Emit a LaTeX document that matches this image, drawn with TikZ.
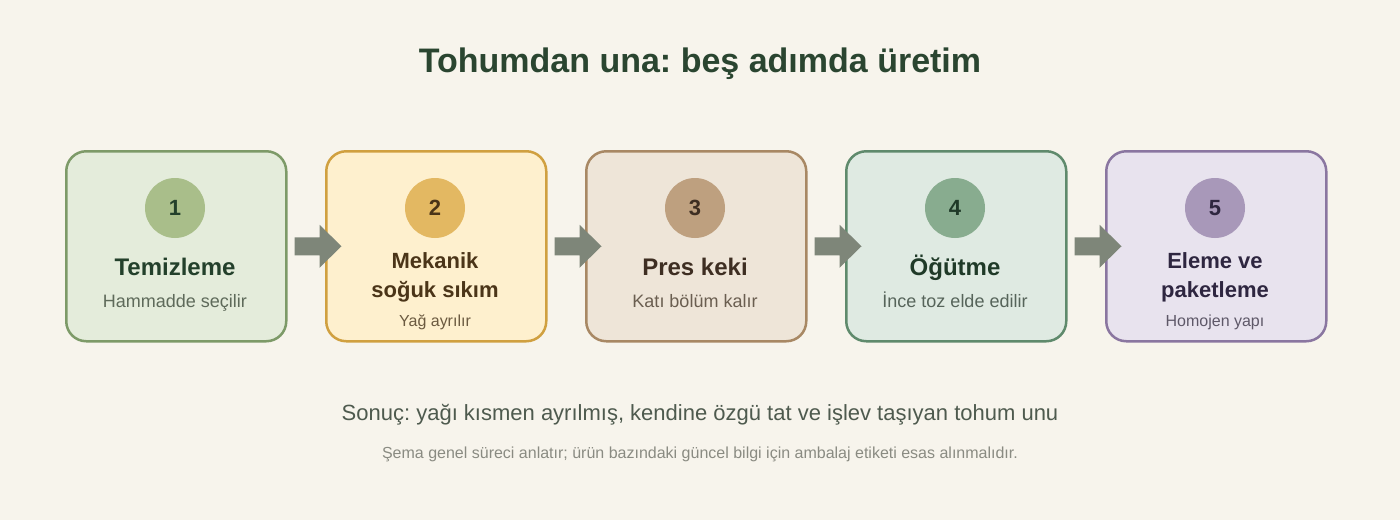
\documentclass[tikz,border=0pt]{standalone}
\usepackage{fontspec}
\setmainfont{Liberation Sans}
\frenchspacing
\definecolor{bg}{HTML}{F7F4EC}
\definecolor{arrowc}{HTML}{7E8679}
\definecolor{titlec}{HTML}{2A4530}
\definecolor{resc}{HTML}{4E5A4E}
\definecolor{notec}{HTML}{8A8B82}
\definecolor{fA}{HTML}{E4ECDB}\definecolor{dA}{HTML}{7D9A68}\definecolor{cA}{HTML}{A9BE8A}\definecolor{tA}{HTML}{23402B}\definecolor{sA}{HTML}{5E6A5A}
\definecolor{fB}{HTML}{FEF0CE}\definecolor{dB}{HTML}{D0A040}\definecolor{cB}{HTML}{E3B862}\definecolor{tB}{HTML}{4B3518}\definecolor{sB}{HTML}{6B5A40}
\definecolor{fC}{HTML}{EEE5D8}\definecolor{dC}{HTML}{A88864}\definecolor{cC}{HTML}{BEA07F}\definecolor{tC}{HTML}{3E2E22}\definecolor{sC}{HTML}{6A5E50}
\definecolor{fD}{HTML}{DFEAE2}\definecolor{dD}{HTML}{5F8A6C}\definecolor{cD}{HTML}{88AC8F}\definecolor{tD}{HTML}{1F3A28}\definecolor{sD}{HTML}{56645A}
\definecolor{fE}{HTML}{E8E3EE}\definecolor{dE}{HTML}{8A76A0}\definecolor{cE}{HTML}{A898B9}\definecolor{tE}{HTML}{2E2640}\definecolor{sE}{HTML}{5E5868}
\tikzset{
  stepbox/.style={rectangle, rounded corners=20pt, line width=2.5pt, minimum width=220pt, minimum height=190pt, anchor=north west, inner sep=0pt},
  numdisc/.style={circle, minimum size=60pt, inner sep=0pt, font=\fontsize{22}{26}\selectfont\bfseries},
  boxtitle/.style={anchor=base, inner sep=0pt, font=\fontsize{24}{28}\selectfont\bfseries},
  boxtitlesm/.style={anchor=base, inner sep=0pt, font=\fontsize{22}{26}\selectfont\bfseries},
  boxsub/.style={anchor=base, inner sep=0pt, font=\fontsize{18}{22}\selectfont},
  boxsubsm/.style={anchor=base, inner sep=0pt, font=\fontsize{16}{20}\selectfont},
  flowarrow/.style={fill=arrowc, draw=none},
}
\begin{document}
\begin{tikzpicture}[x=1pt,y=-1pt]
\fill[bg] (0,0) rectangle (1400,520);
\useasboundingbox (0,0) rectangle (1400,520);
\node[anchor=base, inner sep=0pt, font=\fontsize{34}{40}\selectfont\bfseries, text=titlec] (title) at (700,72) {Tohumdan una: beş adımda üretim};

% boxes
\node[stepbox, fill=fA, draw=dA] (b1) at (65,150) {};
\node[stepbox, fill=fB, draw=dB] (b2) at (325,150) {};
\node[stepbox, fill=fC, draw=dC] (b3) at (585,150) {};
\node[stepbox, fill=fD, draw=dD] (b4) at (845,150) {};
\node[stepbox, fill=fE, draw=dE] (b5) at (1105,150) {};

% number discs
\node[numdisc, fill=cA, text=tA] (n1) at (175,208) {1};
\node[numdisc, fill=cB, text=tB] (n2) at (435,208) {2};
\node[numdisc, fill=cC, text=tC] (n3) at (695,208) {3};
\node[numdisc, fill=cD, text=tD] (n4) at (955,208) {4};
\node[numdisc, fill=cE, text=tE] (n5) at (1215,208) {5};

% texts
\node[boxtitle, text=tA] (t1) at (175,275) {Temizleme};
\node[boxsub, text=sA] (s1) at (175,307) {Hammadde seçilir};
\node[boxtitlesm, text=tB] (t2a) at (435,268) {Mekanik};
\node[boxtitlesm, text=tB] (t2b) at (435,297) {soğuk sıkım};
\node[boxsubsm, text=sB] (s2) at (435,326) {Yağ ayrılır};
\node[boxtitle, text=tC] (t3) at (695,275) {Pres keki};
\node[boxsub, text=sC] (s3) at (695,307) {Katı bölüm kalır};
\node[boxtitle, text=tD] (t4) at (955,275) {Öğütme};
\node[boxsub, text=sD] (s4) at (955,307) {İnce toz elde edilir};
\node[boxtitlesm, text=tE] (t5a) at (1215,268) {Eleme ve};
\node[boxtitlesm, text=tE] (t5b) at (1215,297) {paketleme};
\node[boxsubsm, text=sE] (s5) at (1215,326) {Homojen yapı};

% arrows (block arrows from box to box)
\foreach \a in {b1,b2,b3,b4}{
  \fill[flowarrow] (\a.east) ++(7,-9) -- ++(25,0) -- ++(0,-12.5) -- ++(22,21.5) -- ++(-22,21.5) -- ++(0,-12.5) -- ++(-25,0) -- cycle;
}

\node[anchor=base, inner sep=0pt, font=\fontsize{22}{26}\selectfont, text=resc] (res) at (700,420) {Sonuç: yağı kısmen ayrılmış, kendine özgü tat ve işlev taşıyan tohum unu};
\node[anchor=base, inner sep=0pt, font=\fontsize{16}{19}\selectfont, text=notec] (note) at (700,458) {Şema genel süreci anlatır; ürün bazındaki güncel bilgi için ambalaj etiketi esas alınmalıdır.};
\end{tikzpicture}
\end{document}
